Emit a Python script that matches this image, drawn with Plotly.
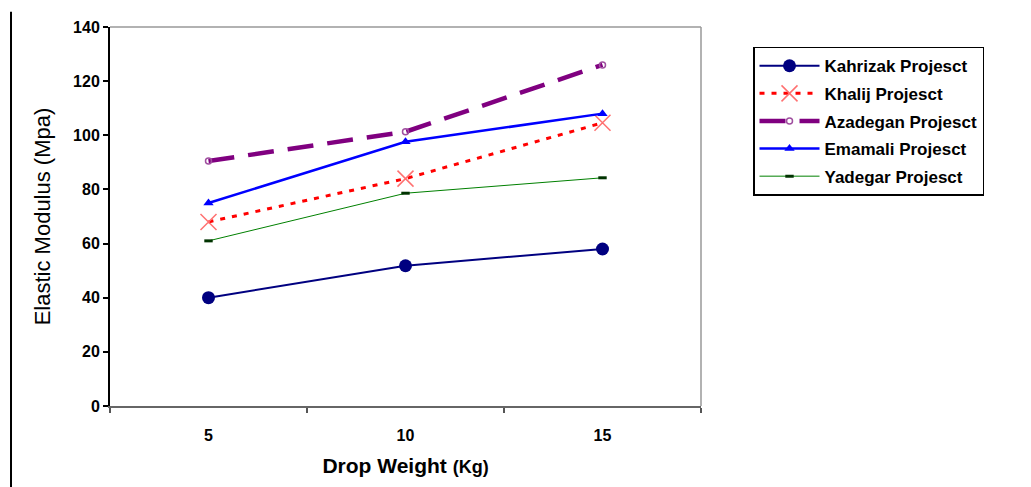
import plotly.graph_objects as go

# Drop weight categories (Kg)
drop_weight = ["5", "10", "15"]

# Elastic modulus (Mpa) per project
kahrizak = [40.0, 51.8, 58.0]
khalij = [68.0, 84.0, 104.6]
azadegan = [90.5, 101.3, 126.0]
emamali = [75.0, 97.6, 108.0]
yadegar = [61.0, 78.6, 84.3]

y_ticks = [0, 20, 40, 60, 80, 100, 120, 140]

fig = go.Figure()

fig.add_trace(go.Scatter(
    x=drop_weight, y=kahrizak, name="Kahrizak Projesct", mode="lines+markers",
    legendgroup="g1",
    line=dict(color="#000080", width=2),
    marker=dict(symbol="circle", size=13, color="#000080"),
))
fig.add_trace(go.Scatter(
    x=drop_weight, y=khalij, name="Khalij Projesct", mode="lines+markers",
    legendgroup="g2",
    line=dict(color="#ff0000", width=3, dash="5px,7px"),
    marker=dict(symbol="x-thin", size=16, color="#ff7070",
                line=dict(color="#ff7070", width=1.5)),
))
fig.add_trace(go.Scatter(
    x=drop_weight, y=azadegan, name="Azadegan Projesct", mode="lines+markers",
    legendgroup="g3",
    line=dict(color="#800080", width=4.5, dash="26px,14px"),
    marker=dict(symbol="circle-open", size=6, color="#a050a0",
                line=dict(color="#a050a0", width=1.5)),
))
fig.add_trace(go.Scatter(
    x=drop_weight, y=emamali, name="Emamali Projesct", mode="lines+markers",
    legendgroup="g4",
    line=dict(color="#0000ff", width=2.5),
    marker=dict(symbol="triangle-up", size=9, color="#0000ff"),
))
fig.add_trace(go.Scatter(
    x=drop_weight, y=yadegar, name="Yadegar Projesct", mode="lines+markers",
    legendgroup="g5",
    line=dict(color="#008000", width=1),
    marker=dict(symbol="line-ew", size=6, color="#003300",
                line=dict(color="#003300", width=3)),
))

bold_font = "Liberation Sans, Arial, sans-serif"

fig.update_layout(
    width=1031, height=487,
    margin=dict(l=110, r=330, t=27, b=80.5),
    paper_bgcolor="white", plot_bgcolor="white",
    font=dict(family=bold_font, color="black"),
    showlegend=True,
    legend=dict(
        x=1.088, y=0.948, xanchor="left", yanchor="top",
        bgcolor="white", bordercolor="black", borderwidth=1.5,
        font=dict(family=bold_font, size=17, color="black", weight="bold"),
        itemwidth=60, traceorder="grouped", tracegroupgap=2.5,
    ),
    xaxis=dict(
        type="category", tickson="boundaries",
        range=[-0.5, 2.5],
        showline=True, linecolor="#666666", linewidth=2,
        ticks="outside", ticklen=5, tickcolor="#555555", tickwidth=1.5,
        ticklabelstandoff=14,
        tickfont=dict(size=16, color="black", weight="bold"),
        showgrid=False, zeroline=False, mirror=False,
        title=dict(
            text="Drop Weight <span style='font-size:18px'>(Kg)</span>",
            font=dict(size=21, color="black", weight="bold"),
            standoff=15,
        ),
    ),
    yaxis=dict(
        range=[0, 140], tickvals=y_ticks,
        showline=True, linecolor="black", linewidth=2,
        ticks="outside", ticklen=5, tickcolor="black", tickwidth=1.5,
        tickfont=dict(size=16, color="black", weight="bold"),
        showgrid=False, zeroline=False,
        title=dict(
            text="Elastic Modulus (Mpa)",
            font=dict(family="Liberation Sans Narrow, Liberation Sans, Arial", size=22,
                      color="black"),
            standoff=16,
        ),
    ),
)

# Top and right frame of the plot area
fig.add_shape(type="line", xref="paper", yref="paper", x0=0, x1=1, y0=1, y1=1,
              line=dict(color="#999999", width=1.5))
fig.add_shape(type="line", xref="paper", yref="paper", x0=1, x1=1, y0=0, y1=1,
              line=dict(color="#999999", width=1.5))
# Page border at left
fig.add_shape(type="line", xref="paper", yref="paper", x0=-0.1675, x1=-0.1675,
              y0=1.04, y1=-0.22, line=dict(color="black", width=2))

fig.write_html("out.html")
